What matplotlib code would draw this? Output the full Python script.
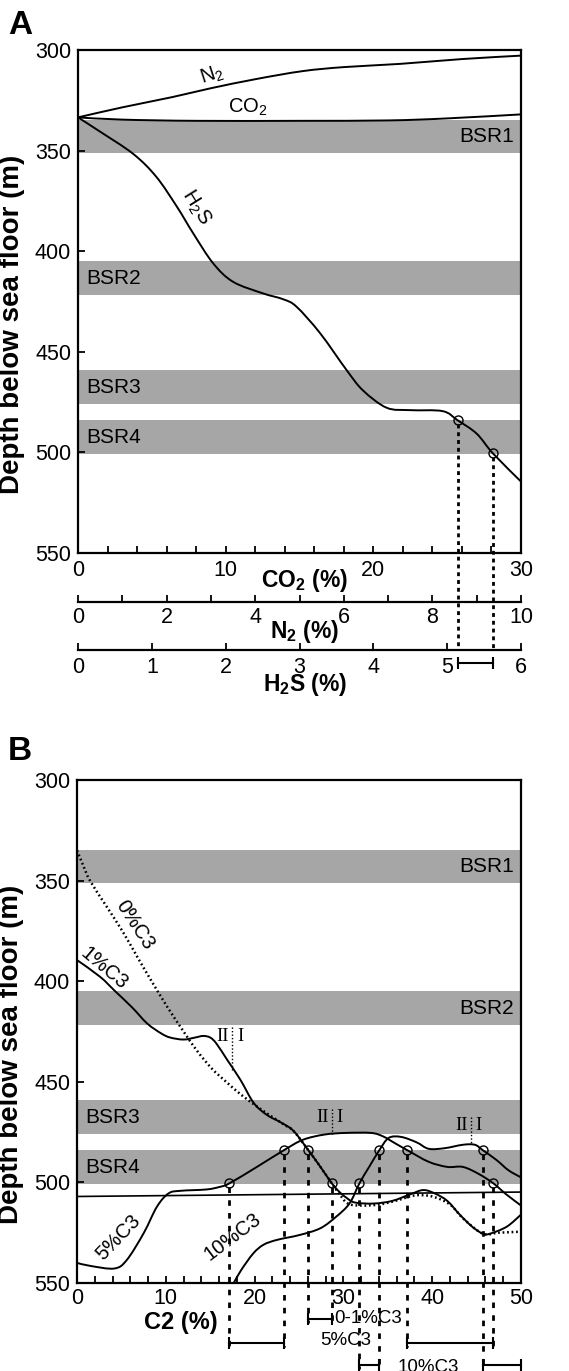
import matplotlib.pyplot as plt
from matplotlib.ticker import MultipleLocator
from matplotlib.path import Path
from matplotlib.patches import PathPatch

plt.rcParams['font.family'] = ['Liberation Sans', 'DejaVu Sans']
plt.rcParams['mathtext.fontset'] = 'custom'
plt.rcParams['mathtext.rm'] = 'Liberation Sans'
plt.rcParams['mathtext.it'] = 'Liberation Sans:italic'
plt.rcParams['mathtext.bf'] = 'Liberation Sans:bold'

# BSR depth intervals (m below sea floor)
bsr_names = ["BSR1", "BSR2", "BSR3", "BSR4"]
bsr_top = [335, 405, 459, 484]
bsr_bottom = [351, 422, 476, 501]

# ---- Panel A : gas composition vs. depth ----
n2_pct = [0, 1.0, 2.13, 3.0, 4.03, 5.07, 6.0, 7.27, 8.67, 10.0]
n2_depth = [333.5, 328.5, 323.4, 319.0, 314.4, 310.5, 308.5, 306.9, 304.5, 302.8]

co2_pct = [0, 3, 8, 15, 21, 25, 30]
co2_depth = [333.5, 334.6, 335.2, 335.2, 335.0, 334.0, 332.0]

h2s_pct = [0, 0.30, 0.75, 1.06, 1.34, 1.56, 1.83, 2.10, 2.50, 2.78, 2.96, 3.28,
           3.64, 3.86, 4.18, 4.50, 4.94, 5.14, 5.40, 5.62, 6.0]
h2s_depth = [333.5, 340.6, 351.7, 363.0, 377.9, 391.1, 406.0, 415.2, 420.9, 423.9,
             427.6, 440.8, 459.2, 469.2, 477.8, 479.0, 479.5, 484.0, 490.7, 500.5, 514.5]

h2s_circle_pct = [5.14, 5.62]
h2s_circle_depth = [484, 500.5]

# ---- Panel B : C2 content vs. depth for several C3 contents ----
c2_0 = [0, 0.7, 1.46, 3.2, 5.1, 6.8, 8.4, 10.2, 12, 13.5, 15.2, 16.8, 18.5, 20.5, 22,
        23.4, 24.4, 26.05, 27.4, 28.7, 29.5, 30.5, 32, 34, 36, 38, 40, 42, 43.5, 45.7,
        47.5, 50]
depth_0 = [335, 342.5, 350, 362, 375, 388, 400, 413, 425, 434.5, 443.5, 450, 456.5,
           463, 467.5, 471.5, 474.5, 484, 492.2, 500.5, 505.5, 510.5, 511.5, 511, 509,
           506.5, 507, 511, 518, 525.5, 525, 524.5]

c2_1 = [0, 2.6, 4.3, 6.2, 7.9, 9.5, 10.5, 12, 13.3, 14.2, 15, 15.7, 16.9, 18.4, 19.9,
        21.4, 23.0, 24.4, 26.05, 27.4, 28.7, 29.5, 30.3, 31.3, 33.4, 35.5, 37.6, 39,
        40.3, 41.7, 43.1, 44.5, 45.7, 46.5, 48.4, 50]
depth_1 = [389.5, 397.8, 405, 413, 421, 426, 428, 429, 428, 427.2, 428, 431, 439, 449,
           460.5, 466.5, 470.3, 474.5, 484, 492.2, 500.5, 504.5, 507.5, 510, 510.5,
           509.2, 505.8, 503.8, 505.5, 509.2, 516, 522, 525.5, 525.5, 522, 516]

c2_5 = [0, 1.5, 4.2, 5.6, 7.5, 9, 10.3, 11.6, 14.6, 16.1, 17.15, 20.26, 23.3, 25.45,
        27.9, 30.3, 33.1, 34.45, 35.8, 37.2, 39.6, 41.7, 43.45, 45.2, 46.9, 48.3, 50]
depth_5 = [540, 541.5, 542.8, 538.6, 525.3, 512.1, 505.5, 504.2, 503.5, 502.2, 500.5,
           492.3, 484, 478.8, 476.2, 475.4, 475.4, 477.1, 480.5, 484, 489.75, 492.3,
           492.3, 495.7, 500.5, 505.8, 511.5]

c2_10 = [17.65, 18.5, 19.85, 21, 22.5, 25.1, 27.4, 29.2, 30.7, 31.8, 32.9, 34.05, 35.1,
         36.5, 38.25, 39.6, 41.4, 43.45, 44.8, 45.7, 47.25, 48.6, 50]
depth_10 = [550, 543.5, 535.3, 531, 528.6, 526.1, 522.8, 517, 510.4, 500.5, 492.3, 484,
            477.9, 477.4, 480.1, 483.3, 483, 481.3, 481.3, 484, 488.9, 494, 497.5]

c2_line = [0, 50]
depth_line = [507, 504.8]

# phase II / I transitions
trans_c2 = [17.5, 28.75, 44.4]
trans_top = [423, 463.5, 467.5]
trans_bottom = [445, 476, 481]
trans_text = [427.5, 467.5, 471.5]

# intersections with BSR4 and the resulting C2 ranges
circle_c2 = [17.15, 23.3, 26.05, 28.7, 31.8, 34.05, 37.2, 45.7, 46.9]
circle_depth = [500.5, 484, 484, 500.5, 500.5, 484, 484, 484, 500.5]
circle_group = ["5", "5", "01", "01", "10", "10", "5", "10", "5"]
range_start = [26.05, 17.15, 37.2, 31.8, 45.7]
range_end = [28.7, 23.3, 46.9, 34.05, 50]
range_group = ["01", "5", "5", "10", "10"]

BAND = '#a6a6a6'
TICK = 15.5
# bar rows below panel B, as axes fraction
row_y = {"01": -0.072, "5": -0.119, "10": -0.163}


def frac_to_depth(f):
    return 550 - 250 * f


def smooth_line(ax, xs, ys, **kw):
    """Draw a smooth (Catmull-Rom style) curve through the given points."""
    pts = list(zip(xs, ys))
    n = len(pts)
    verts = [pts[0]]
    codes = [Path.MOVETO]
    for i in range(n - 1):
        p0 = pts[i - 1] if i > 0 else pts[i]
        p1 = pts[i]
        p2 = pts[i + 1]
        p3 = pts[i + 2] if i + 2 < n else pts[i + 1]
        c1 = (p1[0] + (p2[0] - p0[0]) / 6, p1[1] + (p2[1] - p0[1]) / 6)
        c2 = (p2[0] - (p3[0] - p1[0]) / 6, p2[1] - (p3[1] - p1[1]) / 6)
        verts += [c1, c2, p2]
        codes += [Path.CURVE4] * 3
    ax.add_patch(PathPatch(Path(verts, codes), fill=False, **kw))


def style_main(ax, xmax, xmajor):
    ax.set_xlim(0, xmax)
    ax.xaxis.set_major_locator(MultipleLocator(xmajor))
    ax.xaxis.set_minor_locator(MultipleLocator(2))
    ax.yaxis.set_major_locator(MultipleLocator(50))
    ax.tick_params(axis='both', which='both', direction='in', length=5, width=1.3,
                   labelsize=TICK, top=False, right=False)
    ax.tick_params(axis='y', pad=5)
    for s in ax.spines.values():
        s.set_linewidth(1.6)
    ax.set_ylabel("Depth below sea floor (m)", fontsize=20, fontweight='bold')
    ax.yaxis.set_label_coords(-0.12, 0.455)
    for top, bot in zip(bsr_top, bsr_bottom):
        ax.axhspan(top, bot, color=BAND, lw=0, zorder=0)


def extra_axis(ax, xmax, major, minor, offset, pad):
    tw = ax.twiny()
    tw.set_xlim(0, xmax)
    for side in ['top', 'left', 'right']:
        tw.spines[side].set_visible(False)
    tw.spines['bottom'].set_position(('axes', offset))
    tw.spines['bottom'].set_linewidth(1.6)
    tw.xaxis.set_ticks_position('bottom')
    tw.xaxis.set_major_locator(MultipleLocator(major))
    if minor:
        tw.xaxis.set_minor_locator(MultipleLocator(minor))
    tw.tick_params(axis='x', which='both', direction='in', length=5, width=1.3,
                   labelsize=TICK, pad=pad)
    return tw


fig = plt.figure(figsize=(5.69, 13.71), dpi=100)
ax_a = fig.add_axes([78 / 569, 1 - 553 / 1371, 443 / 569, 503 / 1371])
ax_b = fig.add_axes([77 / 569, 1 - 1283 / 1371, 444 / 569, 503 / 1371])

# ================= Panel A =================
style_main(ax_a, 30, 10)
ax_a.tick_params(axis='x', pad=5)
ax_n2 = extra_axis(ax_a, 10, 2, 1, -0.0974, 3.5)
ax_h = extra_axis(ax_a, 6, 1, None, -0.193, 5)

curve = dict(color='k', lw=1.4)
smooth_line(ax_a, co2_pct, co2_depth, **curve)
smooth_line(ax_n2, n2_pct, n2_depth, **curve)
smooth_line(ax_h, h2s_pct, h2s_depth, **curve)

for x, d in zip(h2s_circle_pct, h2s_circle_depth):
    ax_h.plot([x, x], [d + 1.8, frac_to_depth(-0.193)], color='k', lw=2,
              linestyle=(0, (1.4, 1.4)), clip_on=False)
ax_h.plot(h2s_circle_pct, h2s_circle_depth, 'o', mfc='none', mec='k', ms=6.5, mew=1)
ax_h.plot(h2s_circle_pct, [-0.219, -0.219], transform=ax_h.get_xaxis_transform(),
          clip_on=False, color='k', lw=1.5, marker='|', ms=9, mew=1.5)

ax_a.text(9.05, 312.3, r"N$_2$", fontsize=14.5, rotation=18, ha='center', va='center')
ax_a.text(11.5, 328.3, r"CO$_2$", fontsize=14.5, ha='center', va='center')
ax_a.text(8.0, 378, r"H$_2$S", fontsize=14.5, rotation=-58, ha='center', va='center')

side_a = ['right', 'left', 'left', 'left']
for name, top, bot, side in zip(bsr_names, bsr_top, bsr_bottom, side_a):
    xf = 0.985 if side == 'right' else 0.018
    ax_a.text(xf, (top + bot) / 2, name, transform=ax_a.get_yaxis_transform(),
              ha=side, va='center', fontsize=15)

lab = dict(transform=ax_a.transAxes, ha='center', va='center', fontsize=16.5,
           fontweight='bold')
ax_a.text(0.512, -0.054, r"CO$_\mathbf{2}$ (%)", **lab)
ax_a.text(0.512, -0.157, r"N$_\mathbf{2}$ (%)", **lab)
ax_a.text(0.512, -0.262, r"H$_\mathbf{2}$S (%)", **lab)

# ================= Panel B =================
style_main(ax_b, 50, 10)
ax_b.tick_params(axis='x', pad=3.5)

ax_b.plot(c2_line, depth_line, color='k', lw=1.2)
smooth_line(ax_b, c2_0, depth_0, color='k', lw=1.8, linestyle=(0, (0.7, 1.1)))
smooth_line(ax_b, c2_1, depth_1, **curve)
smooth_line(ax_b, c2_5, depth_5, **curve)
smooth_line(ax_b, c2_10, depth_10, **curve)

for x, t, b, d in zip(trans_c2, trans_top, trans_bottom, trans_text):
    ax_b.plot([x, x], [t, b], color='k', lw=1, linestyle=(0, (1, 1.5)))
    ax_b.text(x - 0.4, d, "II", ha='right', va='center', fontsize=13.5,
              family='Liberation Serif')
    ax_b.text(x + 0.5, d, "I", ha='left', va='center', fontsize=13.5,
              family='Liberation Serif')

for x, d, g in zip(circle_c2, circle_depth, circle_group):
    ax_b.plot([x, x], [d + 1.8, frac_to_depth(row_y[g] - 0.008)], color='k', lw=2,
              linestyle=(0, (2, 2.6)), clip_on=False)
ax_b.plot(circle_c2, circle_depth, 'o', mfc='none', mec='k', ms=6.5, mew=1)

for x0, x1, g in zip(range_start, range_end, range_group):
    ax_b.plot([x0, x1], [row_y[g], row_y[g]], transform=ax_b.get_xaxis_transform(),
              clip_on=False, color='k', lw=1.5, marker='|', ms=9, mew=1.5)

xt = ax_b.get_xaxis_transform()
ax_b.text(29.0, -0.071, "0-1%C3", transform=xt, ha='left', va='center', fontsize=13.5)
ax_b.text(30.25, -0.114, "5%C3", transform=xt, ha='center', va='center', fontsize=13.5)
ax_b.text(39.6, -0.151, "10%C3", transform=xt, ha='center', va='top', fontsize=13.5)

ax_b.text(6.5, 372, "0%C3", fontsize=14.5, rotation=-57, ha='center', va='center')
ax_b.text(3.1, 393.5, "1%C3", fontsize=14.5, rotation=-40, ha='center', va='center')
ax_b.text(4.7, 527.5, "5%C3", fontsize=14.5, rotation=46, ha='center', va='center')
ax_b.text(17.5, 527.0, "10%C3", fontsize=14.5, rotation=37, ha='center', va='center')

side_b = ['right', 'right', 'left', 'left']
for name, top, bot, side in zip(bsr_names, bsr_top, bsr_bottom, side_b):
    xf = 0.985 if side == 'right' else 0.018
    ax_b.text(xf, (top + bot) / 2, name, transform=ax_b.get_yaxis_transform(),
              ha=side, va='center', fontsize=15)

ax_b.text(0.234, -0.0795, "C2 (%)", transform=ax_b.transAxes, ha='center',
          va='center', fontsize=17, fontweight='bold')

ax_a.set_ylim(550, 300)
ax_b.set_ylim(550, 300)

fig.text(0.014, 1 - 10 / 1371, "A", fontsize=24, fontweight='bold', va='top')
fig.text(0.014, 1 - 736 / 1371, "B", fontsize=24, fontweight='bold', va='top')

fig.savefig("out.png", dpi=100, facecolor='white')
